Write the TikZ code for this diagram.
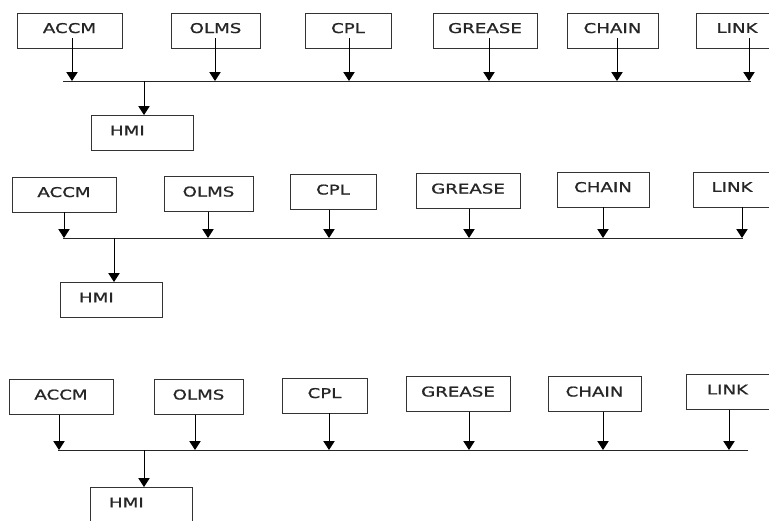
\documentclass[tikz,border=0pt]{standalone}
\usepackage{fontspec}
\newfontfamily\boxfont[FakeStretch=1.35,FakeBold=1]{DejaVu Sans}
\usetikzlibrary{arrows.meta,calc}
\tikzset{
  >={Triangle[length=2.7mm,width=3.4mm]},
  box/.style={draw=black!80,line width=0.8pt,minimum width=#1*0.3mm,minimum height=10.5mm,
    inner sep=0pt,text depth=1.5mm,font=\boxfont\fontsize{11.5}{13}\selectfont,text=black!85},
  box/.default=90,
  hmi/.style={box=102,text width=19.2mm,inner xsep=5.7mm,align=left},
  flow/.style={->,line width=0.8pt,draw=black},
  bus/.style={line width=0.8pt,draw=black!85},
}

\begin{document}
\begin{tikzpicture}[x=0.03cm,y=-0.03cm]
  \useasboundingbox (0,0) rectangle (769,520);
  \clip (0,0) rectangle (769,520);
  % first bus
  \node[box=105] (accm1) at (69.5,30.5) {ACCM};
  \node[box=89] (olms1) at (215.5,30.5) {OLMS};
  \node[box=86] (cpl1) at (348,30.5) {CPL};
  \node[box=104] (grease1) at (485,30.5) {GREASE};
  \node[box=91] (chain1) at (612.5,30.5) {CHAIN};
  \node[box=82] (link1) at (737,30.5) {LINK};
  \node[hmi] (hmi1) at (142,133) {HMI};
  \coordinate (bl1) at (63,81); \coordinate (br1) at (751,81); \coordinate (j1) at (144,81);
  \draw[bus] (bl1) -- (br1);
  \foreach \n/\x in {accm1/72,olms1/215,cpl1/349,grease1/489,chain1/617,link1/749}{
    \coordinate (t) at (\x,81);
    \draw[flow] ($(\n.south -| t)+(0,-10)$) -- (t);
  }
  \draw[flow] (j1) -- (j1 |- hmi1.north);
  % second bus
  \node[box=104] (accm2) at (64,194.5) {ACCM};
  \node[box=89] (olms2) at (208.5,194) {OLMS};
  \node[box=86] (cpl2) at (333,192) {CPL};
  \node[box=104] (grease2) at (468,191) {GREASE};
  \node[box=92] (chain2) at (603,189.5) {CHAIN};
  \node[box=78] (link2) at (732,189.5) {LINK};
  \node[hmi] (hmi2) at (111,300) {HMI};
  \coordinate (bl2) at (63,238); \coordinate (br2) at (743,238); \coordinate (j2) at (114,238);
  \draw[bus] (bl2) -- (br2);
  \foreach \n/\x in {accm2/64,olms2/208,cpl2/329,grease2/469,chain2/603,link2/742}{
    \coordinate (t) at (\x,238);
    \draw[flow] (\n.south -| t) -- (t);
  }
  \draw[flow] (j2) -- (j2 |- hmi2.north);
  % third bus
  \node[box=104] (accm3) at (61,397) {ACCM};
  \node[box=89] (olms3) at (198.5,397) {OLMS};
  \node[box=85] (cpl3) at (324.5,395.5) {CPL};
  \node[box=104] (grease3) at (458,394) {GREASE};
  \node[box=93] (chain3) at (594.5,394) {CHAIN};
  \node[box=83] (link3) at (727.5,392) {LINK};
  \node[hmi] (hmi3) at (141,505) {HMI};
  \coordinate (bl3) at (58,450); \coordinate (br3) at (748,450); \coordinate (j3) at (144,450);
  \draw[bus] (bl3) -- (br3);
  \foreach \n/\x in {accm3/59,olms3/195,cpl3/329,grease3/469,chain3/603,link3/729}{
    \coordinate (t) at (\x,450);
    \draw[flow] (\n.south -| t) -- (t);
  }
  \draw[flow] (j3) -- (j3 |- hmi3.north);
\end{tikzpicture}
\end{document}
